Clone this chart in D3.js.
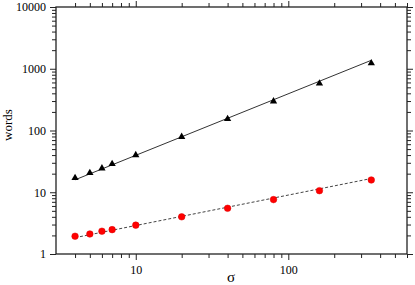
<!DOCTYPE html>
<html>
<head>
  <meta charset="utf-8">
  <title>words vs sigma</title>
  <script src="https://d3js.org/d3.v7.min.js"></script>
  <style>
    body { margin: 0; background: #fff; overflow: hidden; }
    text { font-family: "Liberation Serif", "Times New Roman", serif; fill: #000; }
    .axis path, .axis line { stroke: #222; }
  </style>
</head>
<body>
<svg width="415" height="285"></svg>
<script>
// --- data ---
const sigma = [4, 5, 6, 7, 10, 20, 40, 80, 160, 350];
const wordsTri = [17, 20.5, 24.4, 28.7, 40, 79, 154, 297, 577, 1230];
const wordsDot = [1.94, 2.11, 2.34, 2.48, 2.93, 4.0, 5.5, 7.6, 10.6, 15.8];
// fitted lines (end points)
const fitSigma = [4, 350];
const fitTri = [15.9, 1370];
const fitDot = [1.84, 16.7];
// ticks
const xMajor = [10, 100];
const yMajor = [1, 10, 100, 1000, 10000];

const svg = d3.select("svg");
const pL = 56, pT = 7, pR = 407, pB = 254;

const x = d3.scaleLog().domain([3, 600]).range([pL, pR]);
const y = d3.scaleLog().domain([1, 10000]).range([pB, pT]);

// minor tick values
const xMinor = [];
[1, 10, 100].forEach(d => { for (let k = 2; k <= 9; k++) { const v = d * k; if (v > 3 && v <= 600) xMinor.push(v); } });
const yMinor = [];
[1, 10, 100, 1000].forEach(d => { for (let k = 2; k <= 9; k++) yMinor.push(d * k); });

const fmt = d3.format("d");

function axis(gen, tr, vals, size, labels) {
  const g = svg.append("g").attr("class", "axis").attr("transform", tr)
    .call(gen.tickValues(vals).tickSize(size).tickSizeOuter(0).tickFormat(labels ? fmt : ""));
  g.select(".domain").remove();
  g.selectAll("line").attr("stroke-width", 1);
  g.selectAll("text").style("font-size", "12px");
  return g;
}

// bottom
axis(d3.axisBottom(x), `translate(0,${pB})`, xMinor, 4, false);
axis(d3.axisBottom(x), `translate(0,${pB})`, xMajor, 6, true).selectAll("text").attr("dy", "0.9em");
// top
axis(d3.axisTop(x), `translate(0,${pT})`, xMinor, 4, false);
axis(d3.axisTop(x), `translate(0,${pT})`, xMajor, 6, false);
// left
axis(d3.axisLeft(y), `translate(${pL},0)`, yMinor, 4, false);
axis(d3.axisLeft(y), `translate(${pL},0)`, yMajor, 6, true).selectAll("text").attr("x", -10);
// right
axis(d3.axisRight(y), `translate(${pR},0)`, yMinor, 4, false);
axis(d3.axisRight(y), `translate(${pR},0)`, yMajor, 6, false);

// frame
svg.append("rect")
  .attr("x", pL).attr("y", pT)
  .attr("width", pR - pL).attr("height", pB - pT)
  .attr("fill", "none").attr("stroke", "#222").attr("stroke-width", 1.3);

const line = d3.line().x(d => x(d[0])).y(d => y(d[1]));

svg.append("path")
  .datum(fitSigma.map((s, i) => [s, fitTri[i]]))
  .attr("d", line).attr("fill", "none")
  .attr("stroke", "#333").attr("stroke-width", 1);

svg.append("path")
  .datum(fitSigma.map((s, i) => [s, fitDot[i]]))
  .attr("d", line).attr("fill", "none")
  .attr("stroke", "#444").attr("stroke-width", 1).attr("stroke-dasharray", "3,2");

// triangles
svg.selectAll(".tri").data(sigma).join("path")
  .attr("class", "tri")
  .attr("d", d3.symbol(d3.symbolTriangle, 23))
  .attr("transform", (d, i) => `translate(${x(d)},${y(wordsTri[i])})`)
  .attr("fill", "#000");

// circles
svg.selectAll(".dot").data(sigma).join("circle")
  .attr("class", "dot")
  .attr("cx", d => x(d))
  .attr("cy", (d, i) => y(wordsDot[i]))
  .attr("r", 3.3)
  .attr("fill", "#f00").attr("stroke", "#d00").attr("stroke-width", 0.5);

// axis titles
svg.append("text")
  .attr("x", 231).attr("y", 282)
  .attr("text-anchor", "middle").style("font-size", "15px")
  .text("σ");

svg.append("text")
  .attr("transform", "translate(12,125) rotate(-90)")
  .attr("text-anchor", "middle").style("font-size", "13px")
  .text("words");
</script>
</body>
</html>
